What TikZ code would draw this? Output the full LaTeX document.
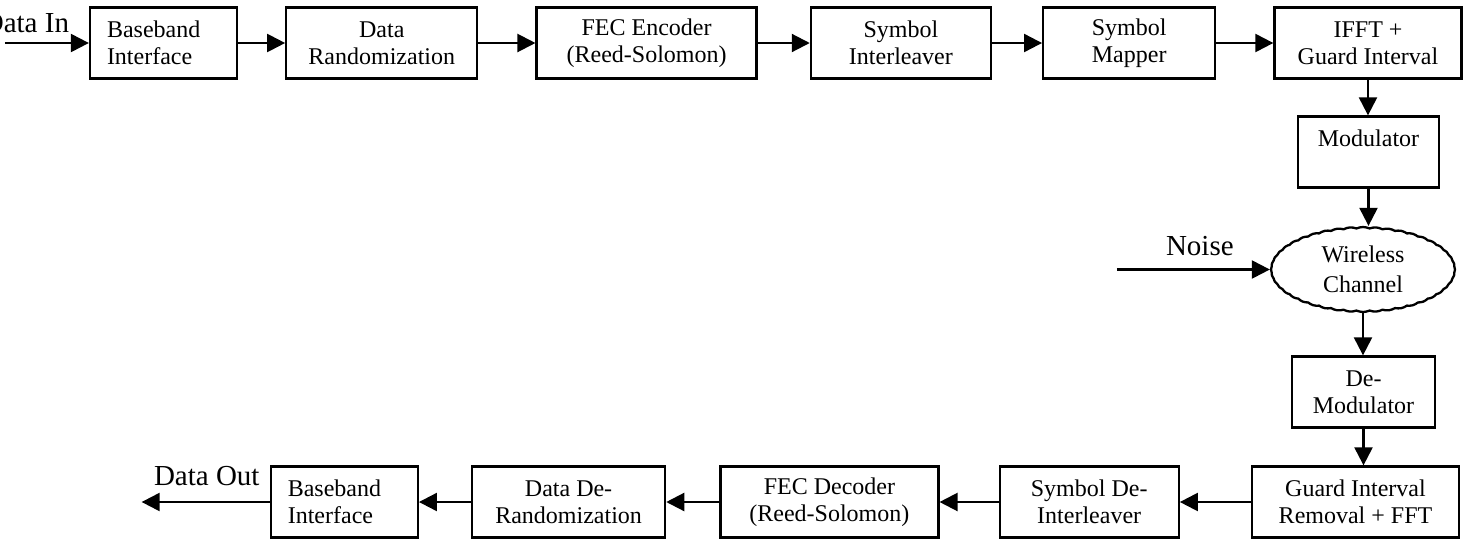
\documentclass[tikz,border=0pt]{standalone}
\usepackage{fontspec}
\setmainfont{Liberation Serif}
\usetikzlibrary{arrows.meta,positioning,shapes.symbols}

\tikzset{
  every picture/.append style={line width=2pt},
}
\tikzset{
  blk/.style={draw, line width=2.3pt, minimum height=71pt, inner sep=3pt, align=center,
              font=\fontsize{24}{27}\selectfont},
  arrow/.style={-{Triangle[length=18pt,width=18pt]}, line width=2.2pt}
}

\begin{document}
\begin{tikzpicture}[
  x=1pt, y=-1pt,
  bbx/.style  ={blk, align=left, text width=113pt, inner xsep=17pt},
  chan/.style ={cloud, draw, line width=2.3pt, cloud puffs=44, cloud puff arc=50,
                cloud ignores aspect, align=center, inner sep=0pt,
                font=\fontsize{24}{30}\selectfont},
  lbl/.style  ={inner sep=0pt, font=\fontsize{29}{32}\selectfont}
]

% Page frame
\useasboundingbox (0,0) rectangle (1468,539);

% Transmitter chain (top row)
\node[bbx] (bbTx) at (163.5,43) {Baseband\\Interface};
\node[blk, minimum width=191pt, right=47pt of bbTx] (rand) {Data\\Randomization};
\node[blk, minimum width=220pt, right=57pt of rand] (fecEnc) {FEC Encoder\\(Reed-Solomon)};
\node[blk, minimum width=180pt, right=52pt of fecEnc] (symInt) {Symbol\\Interleaver};
\node[blk, minimum width=172pt, right=50pt of symInt] (symMap) {Symbol\\Mapper};
\node[blk, minimum width=187pt, right=57pt of symMap] (ifft) {IFFT +\\Guard Interval};

% Right column: modulator, channel, demodulator
\node[blk, minimum width=141pt] (mod) at (1368.5,152) {Modulator\\\phantom{M}};
\node[chan, minimum width=184pt, minimum height=85pt] (wchan) at (1363,269.5) {Wireless\\Channel};
\node[blk, minimum width=143pt] (demod) at (1363.5,392) {De-\\Modulator};

% Receiver chain (bottom row)
\node[blk, minimum width=207pt] (giFft) at (1355.5,502) {Guard Interval\\Removal + FFT};
\node[blk, minimum width=179pt, left=71pt of giFft] (symDeint) {Symbol De-\\Interleaver};
\node[blk, minimum width=218pt, left=59pt of symDeint] (fecDec) {FEC Decoder\\(Reed-Solomon)};
\node[blk, minimum width=193pt, left=53pt of fecDec] (derand) {Data De-\\Randomization};
\node[bbx, left=52pt of derand] (bbRx) {Baseband\\Interface};

% Labels and free ends
\node[lbl, anchor=base east] (inLbl) at (70,32) {Data In};
\coordinate (dataIn) at ([xshift=-84pt]bbTx.west);
\node[lbl, anchor=base west] (noiseLbl) at (1165,255) {Noise};
\coordinate (noiseIn) at ([xshift=-153pt]wchan.west);
\node[lbl, anchor=base west] (outLbl) at (153,485) {Data Out};
\coordinate (dataOut) at ([xshift=-128pt]bbRx.west);

% Connectors
\draw[arrow] (dataIn) -- (bbTx.west);
\foreach \a/\b in {bbTx/rand, rand/fecEnc, fecEnc/symInt, symInt/symMap, symMap/ifft}{
  \draw[arrow] (\a.east) -- (\a.east -| \b.west);
}
\foreach \a/\b in {ifft/mod, mod/wchan, wchan/demod, demod/giFft}{
  \draw[arrow] (\a.south) -- (\a.south |- \b.north);
}
\draw[arrow] (noiseIn) -- (wchan.west);
\foreach \a/\b in {giFft/symDeint, symDeint/fecDec, fecDec/derand, derand/bbRx}{
  \draw[arrow] (\a.west) -- (\a.west -| \b.east);
}
\draw[arrow] (bbRx.west) -- (dataOut);

\end{tikzpicture}
\end{document}
